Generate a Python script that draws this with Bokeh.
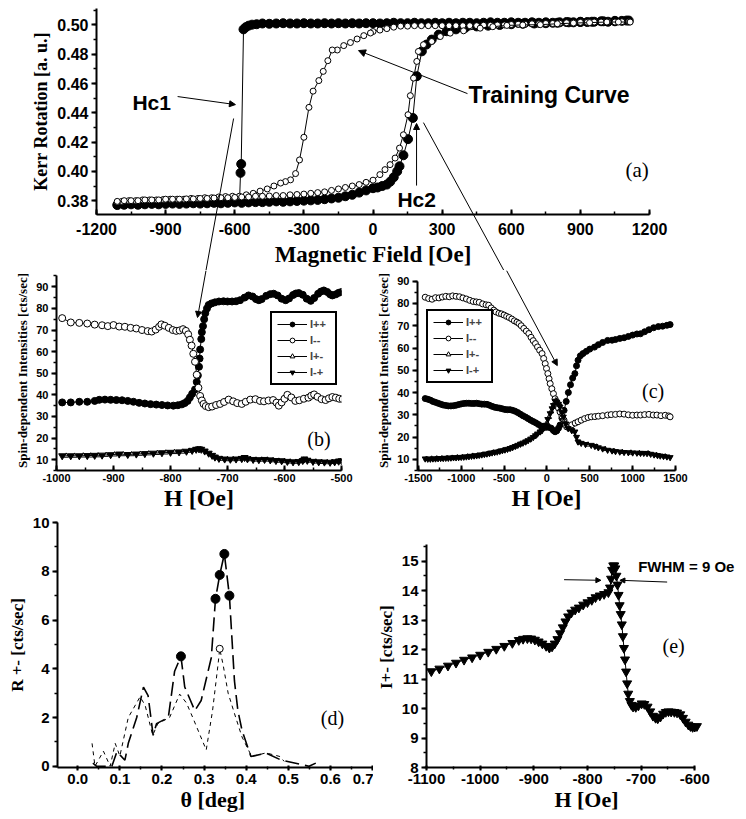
from bokeh.plotting import figure
from bokeh.layouts import column, row
from bokeh.models import (Arrow, NormalHead, Label, Legend, LegendItem,
                          SingleIntervalTicker, NumeralTickFormatter)
from bokeh.embed import file_html
from bokeh.resources import INLINE

SANS = "Liberation Sans"
SERIF = "Liberation Serif"

# ---------------- panel (a) : Kerr loops ----------------
a_fill_desc_x = [1110, 1080, 1050, 1020, 990, 960, 930, 900, 870, 840,
                 810, 780, 750, 720, 690, 660, 630, 600, 570, 540,
                 510, 480, 450, 420, 390, 360, 330, 300, 270, 240,
                 210, 180, 150, 120, 90, 60, 30, 0, -30, -60,
                 -90, -120, -150, -180, -210, -240, -270, -300, -330, -360,
                 -390, -420, -450, -480, -505, -525, -540, -552, -562, -572,
                 -575, -579]
a_fill_desc_y = [.5030, .5028, .5025, .5022, .5025, .5022, .5020, .5022, .5018, .5020,
                 .5018, .5015, .5018, .5015, .5018, .5015, .5015, .5018, .5015, .5015,
                 .5018, .5015, .5012, .5015, .5015, .5012, .5015, .5012, .5015, .5012,
                 .5012, .5015, .5012, .5012, .5015, .5012, .5010, .5012, .5012, .5010,
                 .5012, .5010, .5012, .5010, .5012, .5010, .5010, .5012, .5010, .5010,
                 .5012, .5010, .5008, .5010, .5005, .5002, .4995, .4985, .4970, .4050,
                 .3990, .3810]
a_fill_asc_x = [-1110, -1080, -1050, -1020, -990, -960, -930, -900, -870, -840,
                -810, -780, -750, -720, -690, -660, -630, -600, -570, -540,
                -510, -480, -450, -420, -390, -360, -330, -300, -270, -240,
                -210, -180, -150, -120, -90, -60, -30, 0, 20, 40,
                60, 75, 90, 105, 115, 132, 152, 173, 190, 212,
                232, 255, 285, 320, 360, 400, 450, 500, 550, 600,
                650, 700, 750, 800, 850, 900, 950, 1000, 1050, 1100]
a_fill_asc_y = [.3770, .3772, .3775, .3772, .3775, .3778, .3775, .3778, .3780, .3778,
                .3780, .3782, .3780, .3782, .3785, .3782, .3785, .3788, .3785, .3788,
                .3790, .3790, .3792, .3795, .3792, .3795, .3798, .3800, .3802, .3805,
                .3810, .3815, .3820, .3830, .3840, .3855, .3870, .3885, .3890, .3900,
                .3910, .3930, .3960, .4000, .4035, .4110, .4220, .4365, .4650, .4820,
                .4866, .4900, .4934, .4957, .4970, .4980, .4990, .4995, .5000, .5005,
                .5008, .5010, .5012, .5015, .5018, .5020, .5022, .5025, .5028, .5030]
a_open_desc_x = [1110, 1080, 1050, 1020, 990, 960, 930, 900, 870, 840,
                 810, 780, 750, 720, 690, 660, 630, 600, 570, 540,
                 510, 480, 450, 420, 390, 360, 330, 300, 270, 240,
                 210, 180, 150, 120, 90, 60, 30, 0, -11, -40,
                 -69, -98, -127, -155, -177, -196, -216, -235, -260, -278,
                 -300, -319, -336, -358, -380, -401, -430, -459, -490, -520,
                 -550, -580, -610, -640, -670, -700, -730, -760, -790, -820,
                 -850, -880, -910, -940, -970, -1000, -1030, -1060, -1090, -1110]
a_open_desc_y = [.5022, .5022, .5020, .5022, .5020, .5020, .5018, .5018, .5015, .5015,
                 .5012, .5010, .5010, .5008, .5008, .5005, .5005, .5003, .5000, .5000,
                 .4998, .4998, .4995, .4995, .4995, .4995, .4995, .4995, .4995, .4995,
                 .4995, .4995, .4992, .4992, .4985, .4975, .4965, .4955, .4945, .4927,
                 .4904, .4880, .4859, .4829, .4829, .4756, .4683, .4620, .4548, .4437,
                 .4233, .4078, .3985, .3942, .3930, .3920, .3900, .3880, .3865, .3850,
                 .3840, .3830, .3830, .3828, .3825, .3820, .3820, .3815, .3815, .3810,
                 .3810, .3810, .3808, .3805, .3805, .3805, .3800, .3800, .3795, .3790]
a_open_asc_x = [-1110, -1080, -1050, -1020, -990, -960, -930, -900, -870, -840,
                -810, -780, -750, -720, -690, -660, -630, -600, -570, -540,
                -510, -480, -450, -420, -390, -360, -330, -300, -270, -240,
                -210, -180, -150, -120, -90, -60, -30, 0, 30, 52,
                74, 96, 115, 132, 152, 162, 176, 190, 197, 219,
                255, 292, 335, 393, 465, 520, 581, 650, 726, 800,
                870, 940, 1015, 1065, 1116]
a_open_asc_y = [.3795, .3800, .3800, .3800, .3805, .3805, .3805, .3810, .3810, .3810,
                .3812, .3812, .3815, .3815, .3818, .3820, .3820, .3822, .3825, .3825,
                .3830, .3830, .3832, .3835, .3835, .3840, .3842, .3845, .3850, .3855,
                .3860, .3870, .3880, .3890, .3900, .3910, .3925, .3940, .3978, .4012,
                .4046, .4091, .4159, .4250, .4387, .4517, .4637, .4751, .4819, .4865,
                .4887, .4921, .4944, .4960, .4978, .4988, .4997, .5000, .5002, .5008,
                .5013, .5016, .5020, .5020, .5020]

# ---------------- panel (b) ----------------
b_pp_x = [-990, -975, -960, -946, -933, -925, -915, -905, -895, -885,
          -875, -865, -855, -845, -835, -825, -815, -805, -795, -787,
          -780, -775, -770, -766, -762, -757, -754, -752, -750, -749,
          -748, -746, -745, -743, -741, -739, -736, -733, -728, -722,
          -715, -707, -700, -692, -685, -678, -670, -663, -656, -650,
          -645, -640, -632, -625, -619, -612, -605, -598, -592, -585,
          -580, -575, -568, -561, -554, -548, -541, -536, -531, -525,
          -520, -516, -510, -505, -500]
b_pp_y = [36.5, 36.5, 36.8, 36.8, 37.2, 37.7, 37.8, 37.7, 37.6, 37.5,
          37.2, 36.8, 36.3, 36.0, 35.7, 35.5, 35.3, 35.1, 35.0, 35.2,
          35.6, 36.2, 37.2, 38.8, 40.5, 42.5, 46.0, 49.0, 53.0, 56.8,
          61.0, 65.8, 69.0, 71.8, 75.0, 77.8, 80.0, 81.6, 82.3, 82.8,
          83.2, 83.3, 83.2, 83.2, 83.3, 83.8, 85.0, 86.0, 85.5, 84.3,
          83.8, 84.3, 85.8, 86.6, 86.8, 86.0, 84.5, 83.8, 84.6, 86.2,
          86.9, 87.1, 86.3, 84.5, 83.5, 84.8, 86.8, 87.8, 88.3, 87.6,
          86.5, 86.0, 86.5, 87.2, 87.6]
b_mm_x = [-990, -975, -960, -946, -933, -920, -910, -900, -890, -880,
          -870, -860, -850, -840, -833, -826, -820, -816, -810, -803,
          -796, -790, -784, -778, -773, -769, -766, -763, -760, -757,
          -754, -751, -748, -745, -742, -738, -733, -727, -720, -713,
          -706, -698, -690, -683, -675, -668, -660, -651, -643, -636,
          -628, -620, -614, -610, -605, -600, -595, -588, -581, -574,
          -566, -558, -553, -548, -542, -535, -528, -522, -516, -510,
          -504, -498]
b_mm_y = [75.5, 73.5, 73.3, 73.0, 72.5, 72.2, 71.8, 72.3, 71.6, 71.5,
          71.0, 70.7, 70.0, 69.5, 69.3, 70.2, 71.5, 72.6, 72.0, 71.0,
          70.0, 69.6, 69.8, 70.4, 69.6, 68.0, 65.5, 62.8, 59.0, 55.3,
          49.3, 43.3, 39.5, 37.4, 35.8, 34.8, 34.3, 34.6, 35.3, 35.8,
          36.7, 37.8, 37.0, 36.2, 35.8, 36.8, 37.8, 38.0, 37.2, 37.0,
          37.4, 37.6, 36.4, 35.0, 36.5, 38.2, 40.0, 38.8, 37.2, 37.5,
          38.2, 38.7, 39.6, 40.2, 39.1, 38.0, 37.6, 38.4, 39.0, 38.7,
          38.2, 38.0]
b_mp_x = [-990, -975, -960, -946, -933, -920, -905, -890, -875, -860,
          -845, -830, -815, -800, -785, -772, -762, -755, -750, -746,
          -740, -733, -727, -722, -715, -705, -695, -685, -675, -670,
          -665, -655, -645, -635, -625, -615, -605, -595, -585, -575,
          -568, -565, -560, -550, -540, -530, -520, -512, -505, -500]
b_mp_y = [11.8, 11.8, 11.8, 11.9, 12.0, 12.1, 12.3, 12.6, 12.4, 12.6,
          12.8, 13.0, 13.2, 13.4, 13.6, 13.9, 14.3, 14.8, 15.0, 14.8,
          14.0, 13.0, 12.0, 11.2, 10.6, 10.3, 10.2, 10.3, 10.5, 11.0,
          10.4, 10.1, 10.0, 10.1, 9.9, 9.6, 9.5, 9.2, 9.0, 9.1,
          9.6, 10.3, 9.7, 9.2, 9.0, 8.9, 8.8, 9.0, 9.3, 9.5]
b_pm_x = [-983, -968, -953, -940, -927, -913, -898, -883, -868, -853,
          -838, -823, -808, -793, -779, -767, -758, -752, -748, -743,
          -737, -730, -724, -719, -710, -700, -690, -680, -672, -668,
          -660, -650, -640, -630, -620, -610, -600, -590, -580, -571,
          -566, -562, -555, -545, -535, -525, -516, -508, -502]
b_pm_y = [11.8, 11.8, 11.9, 11.9, 12.0, 12.2, 12.4, 12.5, 12.5, 12.7,
          12.9, 13.1, 13.3, 13.5, 13.7, 14.1, 14.5, 14.9, 14.9, 14.4,
          13.5, 12.5, 11.6, 10.9, 10.4, 10.2, 10.2, 10.4, 10.8, 10.7,
          10.2, 10.0, 10.0, 10.0, 9.7, 9.5, 9.3, 9.1, 9.0, 9.3,
          10.0, 10.0, 9.5, 9.1, 8.9, 8.8, 8.9, 9.1, 9.4]

# ---------------- panel (c) ----------------
c_pp_x = [-1420, -1390, -1360, -1330, -1300, -1270, -1240, -1210, -1180, -1150,
          -1120, -1090, -1060, -1030, -1000, -970, -940, -910, -880, -850,
          -820, -790, -760, -730, -700, -670, -640, -610, -580, -550,
          -520, -490, -460, -430, -400, -370, -340, -310, -280, -250,
          -220, -190, -160, -130, -100, -70, -40, -10, 20, 50,
          75, 95, 115, 135, 153, 175, 200, 225, 250, 275,
          300, 326, 345, 363, 390, 421, 460, 500, 555, 600,
          650, 708, 760, 800, 850, 900, 950, 1000, 1050, 1092,
          1140, 1190, 1245, 1300, 1350, 1400, 1437]
c_pp_y = [37.3, 37.0, 36.6, 36.0, 35.6, 35.2, 34.8, 34.4, 34.2, 34.0,
          34.0, 34.1, 34.3, 34.6, 34.9, 35.1, 35.2, 35.2, 35.1, 35.1,
          35.2, 35.0, 34.8, 34.8, 34.7, 34.3, 33.8, 33.4, 33.2, 33.0,
          32.7, 32.4, 32.3, 32.3, 32.0, 31.6, 31.0, 30.3, 29.6, 29.0,
          28.3, 27.6, 27.0, 26.4, 25.7, 25.0, 24.5, 24.4, 24.4, 24.0,
          23.0, 22.4, 22.8, 24.0, 25.4, 28.5, 32.0, 36.0, 40.0, 43.5,
          46.5, 48.5, 52.0, 54.5, 56.5, 57.5, 58.5, 59.5, 60.4, 61.5,
          62.5, 63.4, 63.5, 63.8, 64.3, 64.6, 65.2, 65.8, 66.3, 66.4,
          67.3, 68.2, 69.1, 69.6, 69.8, 70.2, 70.5]
c_mm_x = [-1420, -1380, -1340, -1300, -1260, -1220, -1180, -1140, -1100, -1060,
          -1020, -980, -939, -900, -860, -824, -790, -750, -710, -680,
          -650, -620, -594, -560, -530, -500, -470, -441, -410, -380,
          -350, -326, -300, -270, -240, -211, -185, -160, -134, -110,
          -85, -57, -38, -20, -5, 11, 25, 38, 57, 76,
          95, 115, 135, 153, 175, 200, 230, 260, 290, 330,
          363, 400, 440, 480, 517, 560, 600, 650, 708, 750,
          800, 850, 900, 950, 1000, 1050, 1092, 1140, 1190, 1240,
          1283, 1330, 1380, 1420, 1437]
c_mm_y = [82.8, 82.2, 81.9, 82.6, 82.5, 82.9, 83.2, 83.0, 83.4, 83.2,
          83.0, 82.5, 82.0, 81.4, 80.9, 80.7, 80.5, 79.8, 79.4, 79.2,
          78.0, 77.0, 76.2, 75.6, 75.3, 74.8, 74.2, 73.7, 73.0, 72.2,
          71.6, 71.0, 70.0, 68.8, 67.6, 66.5, 64.8, 63.3, 62.0, 60.5,
          59.0, 57.5, 55.3, 53.0, 50.8, 48.5, 46.2, 44.0, 41.7, 39.5,
          37.2, 35.0, 33.0, 31.3, 29.5, 27.6, 24.6, 24.5, 25.5, 26.3,
          26.9, 27.6, 28.3, 28.8, 29.1, 29.2, 29.4, 29.6, 29.9, 30.1,
          30.2, 30.4, 30.3, 30.0, 29.8, 29.9, 29.9, 30.1, 30.2, 29.9,
          29.9, 29.6, 29.8, 29.5, 29.1]
c_mp_x = [-1420, -1390, -1360, -1330, -1300, -1270, -1240, -1210, -1180, -1150,
          -1120, -1090, -1060, -1030, -1000, -970, -940, -910, -880, -850,
          -820, -790, -760, -730, -700, -670, -640, -610, -580, -550,
          -520, -490, -460, -430, -400, -370, -340, -310, -280, -249,
          -220, -190, -160, -134, -110, -80, -57, -35, -15, 10,
          38, 60, 76, 95, 115, 135, 153, 175, 191, 220,
          248, 290, 326, 345, 363, 400, 450, 517, 560, 600,
          650, 708, 760, 800, 850, 900, 950, 1000, 1050, 1092,
          1130, 1168, 1210, 1250, 1290, 1322, 1360, 1400, 1437]
c_mp_y = [10.3, 10.2, 10.2, 10.3, 10.3, 10.4, 10.5, 10.5, 10.6, 10.6,
          10.7, 10.8, 10.8, 10.9, 11.0, 11.1, 11.2, 11.3, 11.5, 11.6,
          11.7, 11.9, 12.1, 12.3, 12.5, 12.7, 13.0, 13.2, 13.4, 13.7,
          14.0, 14.3, 14.6, 15.0, 15.4, 15.9, 16.4, 16.9, 17.4, 17.9,
          18.5, 19.2, 19.9, 20.7, 21.5, 22.4, 23.0, 24.2, 25.4, 28.0,
          30.6, 32.8, 34.3, 36.2, 35.8, 34.8, 33.6, 31.0, 29.1, 26.0,
          23.9, 23.0, 22.4, 20.0, 17.9, 17.3, 16.8, 16.4, 15.9, 15.3,
          14.8, 14.2, 13.9, 13.6, 13.4, 13.2, 13.1, 13.0, 12.9, 12.8,
          12.8, 12.7, 12.4, 12.1, 11.8, 11.6, 11.4, 11.2, 10.9]
c_pm_x = [-1405, -1345, -1285, -1225, -1165, -1105, -1045, -985, -925, -865,
          -805, -745, -685, -625, -565, -505, -445, -385, -325, -265,
          -205, -145, -95, -45, 0, 25, 50, 70, 90, 105,
          125, 145, 165, 185, 205, 235, 270, 310, 380, 480,
          580, 680, 780, 880, 980, 1080, 1180, 1280, 1380]
c_pm_y = [10.2, 10.3, 10.4, 10.5, 10.6, 10.7, 10.9, 11.0, 11.3, 11.6,
          11.8, 12.2, 12.6, 13.1, 13.5, 14.1, 14.7, 15.6, 16.6, 17.6,
          18.8, 20.3, 22.0, 23.9, 26.5, 29.0, 31.5, 33.5, 35.5, 36.5,
          36.0, 35.0, 32.5, 30.0, 27.5, 24.8, 23.5, 22.8, 17.5, 16.6,
          15.7, 14.6, 13.7, 13.3, 13.0, 12.8, 12.7, 11.9, 11.3]

# ---------------- panel (d) ----------------
d_long_x = [0.036, 0.045, 0.081, 0.093, 0.112, 0.120, 0.140, 0.156, 0.167, 0.179,
            0.187, 0.215, 0.230, 0.245, 0.254, 0.278, 0.293, 0.317, 0.327, 0.337,
            0.348, 0.360, 0.372, 0.380, 0.390, 0.411, 0.447, 0.482, 0.549, 0.565]
d_long_y = [0.13, 0.00, 0.00, 0.60, 0.25, 0.94, 2.00, 3.25, 2.90, 1.27,
            1.75, 2.00, 3.90, 4.51, 3.25, 2.28, 2.70, 4.45, 6.87, 7.85,
            8.71, 7.00, 3.50, 2.30, 1.47, 0.40, 0.54, 0.26, 0.00, 0.13]
d_short_x = [0.034, 0.041, 0.061, 0.077, 0.089, 0.100, 0.120, 0.148, 0.160, 0.178,
             0.190, 0.218, 0.242, 0.258, 0.273, 0.305, 0.320, 0.333, 0.337, 0.345,
             0.357, 0.375, 0.390, 0.413, 0.447, 0.480, 0.490]
d_short_y = [0.94, 0.00, 0.62, 0.00, 0.94, 0.42, 2.00, 2.85, 2.50, 1.27,
             1.75, 2.00, 2.96, 2.60, 2.00, 0.67, 2.28, 4.17, 4.82, 4.17,
             3.00, 2.00, 1.20, 0.40, 0.55, 0.40, 0.20]
d_fill_x = [0.245, 0.327, 0.337, 0.348, 0.360]
d_fill_y = [4.51, 6.87, 7.85, 8.71, 7.00]
d_open_x = [0.337]
d_open_y = [4.82]

# ---------------- panel (e) ----------------
e_x = [-1091, -1076, -1060, -1045, -1030, -1015, -1000, -985, -970, -955,
       -940, -928, -920, -912, -905, -898, -891, -884, -877, -871,
       -866, -861, -856, -851, -846, -841, -836, -830, -823, -816,
       -808, -800, -792, -785, -777, -769, -761, -758, -756, -754,
       -752, -750, -748, -746, -744, -742, -740, -738, -736, -734,
       -732, -730, -728, -726, -724, -721, -718, -715, -710, -705,
       -699, -694, -688, -683, -678, -673, -669, -664, -659, -654,
       -649, -644, -638, -633, -627, -622, -617, -612, -608, -604,
       -600, -596]
e_y = [11.26, 11.35, 11.45, 11.55, 11.65, 11.73, 11.82, 11.92, 12.02, 12.12,
       12.22, 12.32, 12.36, 12.38, 12.37, 12.33, 12.27, 12.20, 12.12, 12.06,
       12.10, 12.20, 12.35, 12.55, 12.75, 12.95, 13.12, 13.25, 13.35, 13.42,
       13.52, 13.60, 13.68, 13.77, 13.83, 13.88, 13.94, 14.10, 14.40, 14.70,
       14.85, 14.85, 14.75, 14.50, 14.20, 13.85, 13.50, 13.20, 12.85, 12.45,
       12.05, 11.66, 11.25, 10.85, 10.50, 10.25, 10.12, 10.06, 10.05, 10.10,
       10.17, 10.15, 10.06, 9.90, 9.75, 9.68, 9.66, 9.72, 9.82, 9.88,
       9.90, 9.89, 9.88, 9.86, 9.80, 9.68, 9.55, 9.45, 9.40, 9.37,
       9.38, 9.40]


def style(p, xint, yint, xfmt, yfmt, tick_px, xlabel, ylabel, xl_px, yl_px,
          x_in=False, x_standoff=4, xl_standoff=2, xbounds=None, ybounds=None):
    p.xgrid.visible = False
    p.ygrid.visible = False
    p.outline_line_color = None
    p.background_fill_color = "white"
    p.border_fill_color = "white"
    p.xaxis.ticker = SingleIntervalTicker(interval=xint, num_minor_ticks=2)
    p.yaxis.ticker = SingleIntervalTicker(interval=yint, num_minor_ticks=2)
    p.xaxis.formatter = NumeralTickFormatter(format=xfmt)
    p.yaxis.formatter = NumeralTickFormatter(format=yfmt)
    p.xaxis.major_label_text_font_style = "bold"
    p.yaxis.major_label_text_font_style = "bold"
    for ax in (p.xaxis[0], p.yaxis[0]):
        ax.axis_line_width = 2
        ax.axis_line_color = "black"
        ax.major_tick_line_width = 2
        ax.minor_tick_line_width = 1.5
        ax.major_tick_line_color = "black"
        ax.minor_tick_line_color = "black"
        ax.major_label_text_font = SANS
        ax.major_label_text_font_size = tick_px
        ax.major_label_text_color = "black"
        ax.axis_label_text_font = SERIF
        ax.axis_label_text_font_style = "bold"
        ax.axis_label_text_color = "black"
    xa, ya = p.xaxis[0], p.yaxis[0]
    if x_in:
        xa.major_tick_in, xa.major_tick_out = 5, 0
        xa.minor_tick_in, xa.minor_tick_out = 3, 0
    else:
        xa.major_tick_in, xa.major_tick_out = 2, 3
        xa.minor_tick_in, xa.minor_tick_out = 1, 2
    ya.major_tick_in, ya.major_tick_out = 0, 5
    ya.minor_tick_in, ya.minor_tick_out = 0, 3
    xa.major_label_standoff = x_standoff
    ya.major_label_standoff = 3
    xa.axis_label = xlabel
    ya.axis_label = ylabel
    xa.axis_label_text_font_size = xl_px
    ya.axis_label_text_font_size = yl_px
    xa.axis_label_standoff = xl_standoff
    ya.axis_label_standoff = 3
    if xbounds is not None:
        xa.bounds = xbounds
    if ybounds is not None:
        ya.bounds = ybounds


def arrow(p, x0, y0, x1, y1, head=True, size=7):
    p.add_layout(Arrow(end=NormalHead(size=size, fill_color="black", line_color="black",
                                      line_width=1) if head else None,
                       x_start=x0, y_start=y0, x_end=x1, y_end=y1,
                       line_color="black", line_width=1))


def label(p, x, y, text, font, size, bold=False):
    p.add_layout(Label(x=x, y=y, text=text, text_font=font, text_font_size=size,
                       text_font_style="bold" if bold else "normal",
                       text_color="black", text_baseline="alphabetic"))


# ---------- figure (a) ----------
# frame covers the whole canvas; axes are pinned at the data edges
pa = figure(width=746, height=270, x_range=(-1616.7, 1621.0), y_range=(0.3323, 0.5167),
            output_backend="svg", toolbar_location=None,
            min_border_left=0, min_border_right=0, min_border_top=0, min_border_bottom=0)
style(pa, 300, 0.02, "0", "0.00", "16px", "Magnetic Field [Oe]", "Kerr Rotation [a. u.]",
      "23px", "18px", x_in=True, x_standoff=8, xl_standoff=4,
      xbounds=(-1200, 1200), ybounds=(0.3705, 0.511))
pa.xaxis[0].fixed_location = 0.3705
pa.yaxis[0].fixed_location = -1200
for xs, ys in ((a_fill_desc_x, a_fill_desc_y), (a_fill_asc_x, a_fill_asc_y)):
    pa.line(xs, ys, line_color="black", line_width=1)
    pa.scatter(xs, ys, marker="circle", size=9, fill_color="black", line_color="black")
for xs, ys in ((a_open_desc_x, a_open_desc_y), (a_open_asc_x, a_open_asc_y)):
    pa.line(xs, ys, line_color="black", line_width=1)
    pa.scatter(xs, ys, marker="circle", size=6, fill_color="white", line_color="black",
               line_width=1)
label(pa, -1044, 0.4470, "Hc1", SANS, "21px", True)
arrow(pa, -848, 0.4511, -597, 0.4456, size=6)
label(pa, 415, 0.4525, "Training Curve", SANS, "23px", True)
arrow(pa, 410, 0.4531, -63, 0.4825, size=7)
label(pa, 106, 0.3808, "Hc2", SANS, "21px", True)
arrow(pa, 189, 0.3903, 189, 0.4327, size=6)
label(pa, 1096, 0.4006, "(a)", SERIF, "21px")
arrow(pa, -605, 0.4361, -725, 0.3323, head=False)
arrow(pa, 219, 0.4333, 568, 0.3323, head=False)


def legend_for(p, items, loc):
    lg = Legend(items=items, location=loc, orientation="vertical",
                label_text_font=SANS, label_text_font_style="bold",
                label_text_font_size="11px", label_height=12, glyph_height=12,
                glyph_width=30, label_standoff=3, spacing=4, padding=5, margin=0,
                border_line_color="black", border_line_width=2, border_line_alpha=1,
                background_fill_color="white", background_fill_alpha=1)
    p.add_layout(lg)


def spin_series(p, xs_pp, ys_pp, xs_mm, ys_mm, xs_pm, ys_pm, xs_mp, ys_mp, msize):
    l1 = p.line(xs_pp, ys_pp, line_color="black", line_width=1)
    s1 = p.scatter(xs_pp, ys_pp, marker="circle", size=msize, fill_color="black",
                   line_color="black")
    l2 = p.line(xs_mm, ys_mm, line_color="black", line_width=1)
    s2 = p.scatter(xs_mm, ys_mm, marker="circle", size=msize, fill_color="white",
                   line_color="black")
    l3 = p.line(xs_pm, ys_pm, line_color="black", line_width=1)
    s3 = p.scatter(xs_pm, ys_pm, marker="triangle", size=5, fill_color="white", line_color="black")
    l4 = p.line(xs_mp, ys_mp, line_color="black", line_width=1)
    s4 = p.scatter(xs_mp, ys_mp, marker="inverted_triangle", size=msize, fill_color="black",
                   line_color="black")
    return [LegendItem(label="I++", renderers=[l1, s1]),
            LegendItem(label="I--", renderers=[l2, s2]),
            LegendItem(label="I+-", renderers=[l3, s3]),
            LegendItem(label="I-+", renderers=[l4, s4])]


# ---------- figure (b) ----------
pb = figure(width=373, height=243, x_range=(-1000, -500), y_range=(5, 97.54),
            output_backend="svg", toolbar_location=None,
            min_border_left=56, min_border_right=32, min_border_top=0, min_border_bottom=43)
style(pb, 100, 10, "0", "0", "11px", "H [Oe]", "Spin-dependent Intensities [cts/sec]",
      "24px", "13px", x_in=True, x_standoff=3, xl_standoff=0, ybounds=(5, 95))
items_b = spin_series(pb, b_pp_x, b_pp_y, b_mm_x, b_mm_y, b_pm_x, b_pm_y, b_mp_x, b_mp_y, 7)
legend_for(pb, items_b, (214, 85))
label(pb, -560, 19.8, "(b)", SERIF, "20px")
arrow(pb, -737.7, 97.54, -752.6, 75.8, size=6)

# ---------- figure (c) ----------
pc = figure(width=373, height=243, x_range=(-1510, 1500), y_range=(5, 94.8),
            output_backend="svg", toolbar_location=None,
            min_border_left=40, min_border_right=71, min_border_top=0, min_border_bottom=43)
style(pc, 500, 10, "0", "0", "11px", "H [Oe]", "Spin-dependent Intensities [cts/sec]",
      "24px", "13px", x_in=True, x_standoff=3, xl_standoff=0, ybounds=(5, 90))
items_c = spin_series(pc, c_pp_x, c_pp_y, c_mm_x, c_mm_y, c_pm_x, c_pm_y, c_mp_x, c_mp_y, 6)
legend_for(pc, items_c, (9, 87))
label(pc, 1109, 40.5, "(c)", SERIF, "20px")
arrow(pc, -471, 94.8, 121, 52.1, size=6)

# ---------- figure (d) ----------
pd_ = figure(width=373, height=306, x_range=(-0.048, 0.702), y_range=(-0.05, 10),
             output_backend="svg", toolbar_location=None,
             min_border_left=57, min_border_right=0, min_border_top=9, min_border_bottom=52)
style(pd_, 0.1, 2, "0.0", "0", "15px", "\u03b8  [deg]", "R +- [cts/sec]",
      "22px", "17px", x_in=False, x_standoff=3, xl_standoff=0)
pd_.line(d_long_x, d_long_y, line_color="black", line_width=1.6, line_dash="14 6")
pd_.line(d_short_x, d_short_y, line_color="black", line_width=1, line_dash="4 4")
pd_.scatter(d_fill_x, d_fill_y, marker="circle", size=9, fill_color="black", line_color="black")
pd_.scatter(d_open_x, d_open_y, marker="circle", size=7, fill_color="white", line_color="black")
label(pd_, 0.577, 2.0, "(d)", SERIF, "20px")

# ---------- figure (e) ----------
pe = figure(width=373, height=306, x_range=(-1100, -503.6), y_range=(8, 16.31),
            output_backend="svg", toolbar_location=None,
            min_border_left=45, min_border_right=0, min_border_top=9, min_border_bottom=52)
style(pe, 100, 1, "0", "0", "15px", "H [Oe]", "I+-  [cts/sec]",
      "22px", "17px", x_in=False, x_standoff=3, xl_standoff=0,
      xbounds=(-1100, -600), ybounds=(8, 15.55))
pe.line(e_x, e_y, line_color="black", line_width=1)
pe.scatter(e_x, e_y, marker="inverted_triangle", size=9, fill_color="black", line_color="black")
label(pe, -705.5, 14.82, "FWHM = 9 Oe", SANS, "15px", True)
arrow(pe, -843.6, 14.37, -775, 14.35, size=5)
arrow(pe, -651.5, 14.29, -739.5, 14.35, size=5)
label(pe, -660, 12.11, "(e)", SERIF, "20px")

layout = column(pa, row(pb, pc), row(pd_, pe))
open("out.html", "w").write(file_html(layout, INLINE))
